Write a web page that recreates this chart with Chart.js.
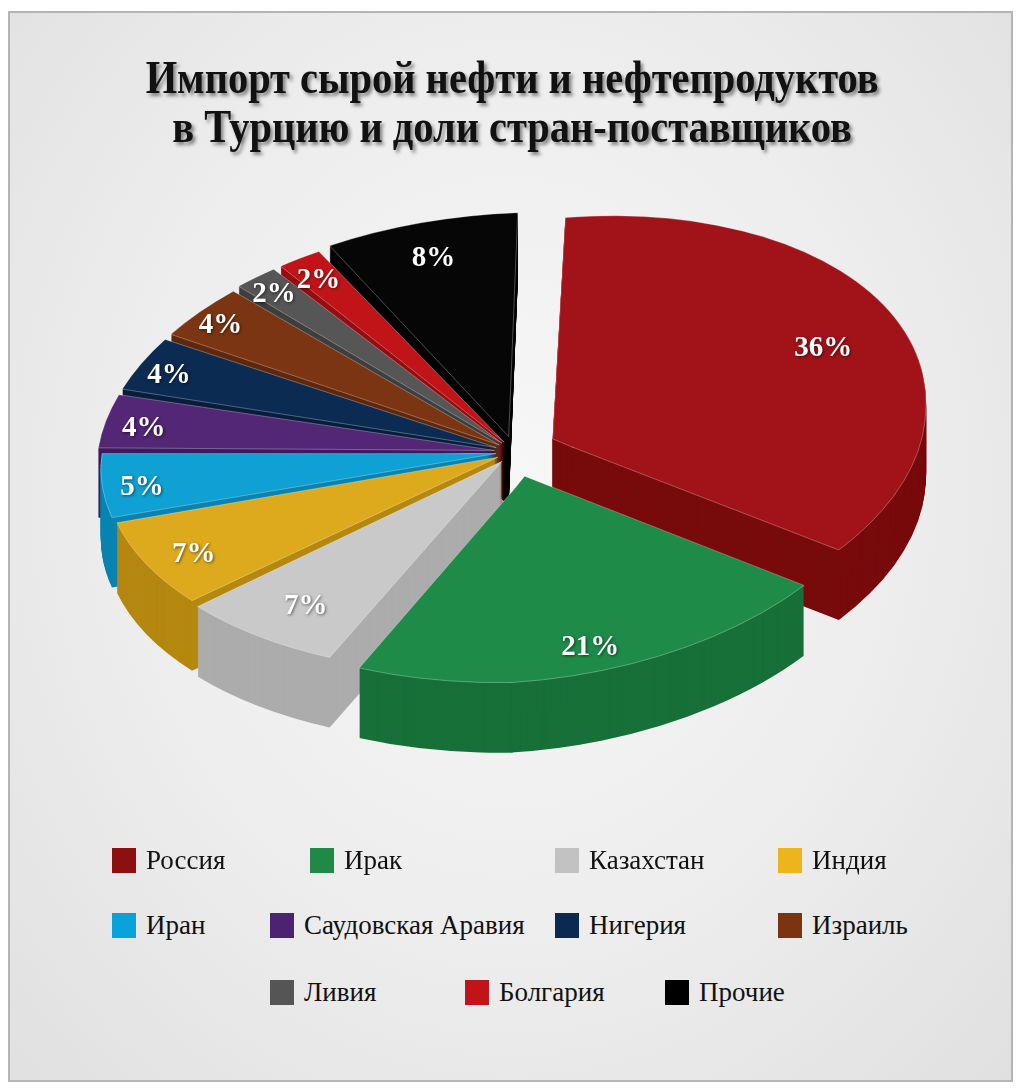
<!DOCTYPE html>
<html lang="ru">
<head>
<meta charset="utf-8">
<title>Импорт сырой нефти в Турцию</title>
<script src="https://cdn.jsdelivr.net/npm/chart.js@4.4.1/dist/chart.umd.min.js"></script>
<style>
  html, body { margin: 0; padding: 0; background: #fff; }
  body { width: 1024px; height: 1092px; position: relative; overflow: hidden; }
  #panel {
    position: absolute; left: 8px; top: 11px; width: 1001px; height: 1067px;
    border: 2px solid #b4b4b4;
    background: radial-gradient(ellipse at 50% 45%, #f7f7f7 0%, #ededed 55%, #e0e0e0 100%);
  }
  #chart-box { position: absolute; left: 3px; top: 2px; width: 1024px; height: 900px; }
  #titulo {
    position: absolute; left: 0; top: 53px; width: 1024px; text-align: center;
    font-family: "Liberation Serif", serif; font-weight: bold; font-size: 47px; line-height: 49px;
    color: #111; text-shadow: 3px 3px 4px rgba(0,0,0,0.45);
  }
  #titulo span { display: inline-block; transform: scaleX(0.86); white-space: nowrap; }
  .leg { position: absolute; height: 26px; font-family: "Liberation Serif", serif; font-size: 27px; color: #111; white-space: nowrap; }
  .leg i { position: absolute; left: 0; top: 0; width: 24px; height: 25px; }
  .leg b { position: absolute; left: 34px; top: -3px; font-weight: normal; line-height: 30px; }
</style>
</head>
<body>
<div id="panel"></div>
<div id="chart-box"><canvas id="grafico" width="1024" height="900"></canvas></div>
<div id="titulo"><span>Импорт сырой нефти и нефтепродуктов</span><br><span>в Турцию и доли стран-поставщиков</span></div>
<div id="legenda"></div>
<script>
// dados
const paises = ['Россия', 'Ирак', 'Казахстан', 'Индия', 'Иран', 'Саудовская Аравия',
                'Нигерия', 'Израиль', 'Ливия', 'Болгария', 'Прочие'];
const doles = [36, 21, 7, 7, 5, 4, 4, 4, 2, 2, 8];

// estilo
const coresTopo = ['#a11318', '#1f8b48', '#c9c9c9', '#dcaa1c', '#0fa1d3', '#532676',
                   '#0c2b53', '#7b3512', '#565656', '#c11419', '#060606'];
const coresLado = ['#780b0c', '#177038', '#acacac', '#b5880f', '#0a84b0', '#41195e',
                   '#081e3c', '#5f280c', '#3f3f3f', '#960e12', '#000000'];
const coresLegenda = ['#8c1010', '#1e8a45', '#c2c2c2', '#ebb51b', '#0aa2da', '#4b2370',
                      '#0b2a50', '#7a3410', '#555555', '#c11419', '#000000'];
const afastamento = [180, 200, 88, 80, 80, 88, 88, 88, 88, 88, 120];
const raioRotulo = [0.81, 0.86, 0.83, 0.89, 0.93, 0.94, 0.96, 0.97, 0.97, 0.95, 0.89];
const posLegenda = [[112, 848], [310, 848], [555, 848], [778, 848],
                    [112, 913], [270, 913], [555, 913], [778, 913],
                    [270, 980], [465, 980], [665, 980]];

// perspectiva: para onde vai cada semi-eixo da pizza (por unidade de raio)
const EIXO_DIR = [0.91, -0.071];
const EIXO_ESQ = [-0.955, 0.031];
const EIXO_FUNDO = [0.0275, -0.539];
const EIXO_FRENTE = [-0.0075, 0.512];
const ESPESSURA = 70;

function matriz(qx, qy) {
    const colX = qx > 0 ? EIXO_DIR : [-EIXO_ESQ[0], -EIXO_ESQ[1]];
    const colY = qy > 0 ? EIXO_FRENTE : [-EIXO_FUNDO[0], -EIXO_FUNDO[1]];
    return [colX[0], colX[1], colY[0], colY[1]];
}

// desenha cada quadrante com sua própria transformação
function desenhaQuadrantes(ctx, cx, cy, desenho) {
    [-1, 1].forEach(qx => [-1, 1].forEach(qy => {
        const [a, b, c, d] = matriz(qx, qy);
        ctx.save();
        ctx.transform(a, b, c, d, cx - a * cx - c * cy, cy - b * cx - d * cy);
        ctx.beginPath();
        ctx.rect(qx < 0 ? cx - 3000 : cx - 1, qy < 0 ? cy - 3000 : cy - 1, 3001, 3001);
        ctx.clip();
        desenho();
        ctx.restore();
    }));
}

function projeta(cx, cy, x, y) {
    const [a, b, c, d] = matriz(x >= cx ? 1 : -1, y >= cy ? 1 : -1);
    return [cx + a * (x - cx) + c * (y - cy), cy + b * (x - cx) + d * (y - cy)];
}

const pizza3d = {
    id: 'pizza3d',
    beforeDatasetsDraw(chart) {
        const ctx = chart.ctx;
        const arcos = chart.getDatasetMeta(0).data;
        const cx = arcos[0].x, cy = arcos[0].y;

        // laterais: fatias do fundo primeiro
        const profundidade = arcos.map(a => {
            const p = a.tooltipPosition();
            return projeta(cx, cy, p.x, p.y)[1];
        });
        const ordem = arcos.map((a, i) => i).sort((i, j) => profundidade[i] - profundidade[j]);
        ordem.forEach(i => {
            const arco = arcos[i];
            const original = arco.options;
            arco.options = Object.assign({}, original, {
                backgroundColor: coresLado[i], borderColor: coresLado[i], borderWidth: 0
            });
            for (let d = ESPESSURA; d > 0; d--) {
                ctx.save();
                ctx.translate(0, d);
                desenhaQuadrantes(ctx, cx, cy, () => arco.draw(ctx));
                ctx.restore();
            }
            arco.options = original;
        });

        // tampas
        desenhaQuadrantes(ctx, cx, cy, () => arcos.forEach(a => a.draw(ctx)));

        // rótulos
        ctx.save();
        ctx.font = 'bold 29px "Liberation Serif"';
        ctx.textAlign = 'center';
        ctx.textBaseline = 'middle';
        ctx.fillStyle = '#fff';
        ctx.shadowColor = 'rgba(0,0,0,0.55)';
        ctx.shadowBlur = 3;
        ctx.shadowOffsetX = 1;
        ctx.shadowOffsetY = 1;
        arcos.forEach((arco, i) => {
            const meio = (arco.startAngle + arco.endAngle) / 2;
            const r = arco.outerRadius * raioRotulo[i] + arco.options.offset / 4;
            const [x, y] = projeta(cx, cy, cx + Math.cos(meio) * r, cy + Math.sin(meio) * r);
            ctx.fillText(doles[i] + '%', x, y + 5);
        });
        ctx.restore();
        return false;
    }
};

new Chart(document.getElementById('grafico'), {
    type: 'pie',
    data: {
        labels: paises,
        datasets: [{
            data: doles,
            backgroundColor: coresTopo,
            borderColor: 'rgba(255,255,255,0.4)',
            borderWidth: 1,
            offset: afastamento,
            radius: 400,
            clip: false
        }]
    },
    options: {
        responsive: false,
        animation: false,
        events: [],
        layout: { padding: 0 },
        plugins: { legend: { display: false }, tooltip: { enabled: false } }
    },
    plugins: [pizza3d]
});

// legenda em html
const legenda = document.getElementById('legenda');
paises.forEach((nome, i) => {
    const item = document.createElement('div');
    item.className = 'leg';
    item.style.left = posLegenda[i][0] + 'px';
    item.style.top = posLegenda[i][1] + 'px';
    item.innerHTML = `<i style="background:${coresLegenda[i]}"></i><b>${nome}</b>`;
    legenda.appendChild(item);
});
</script>
</body>
</html>
